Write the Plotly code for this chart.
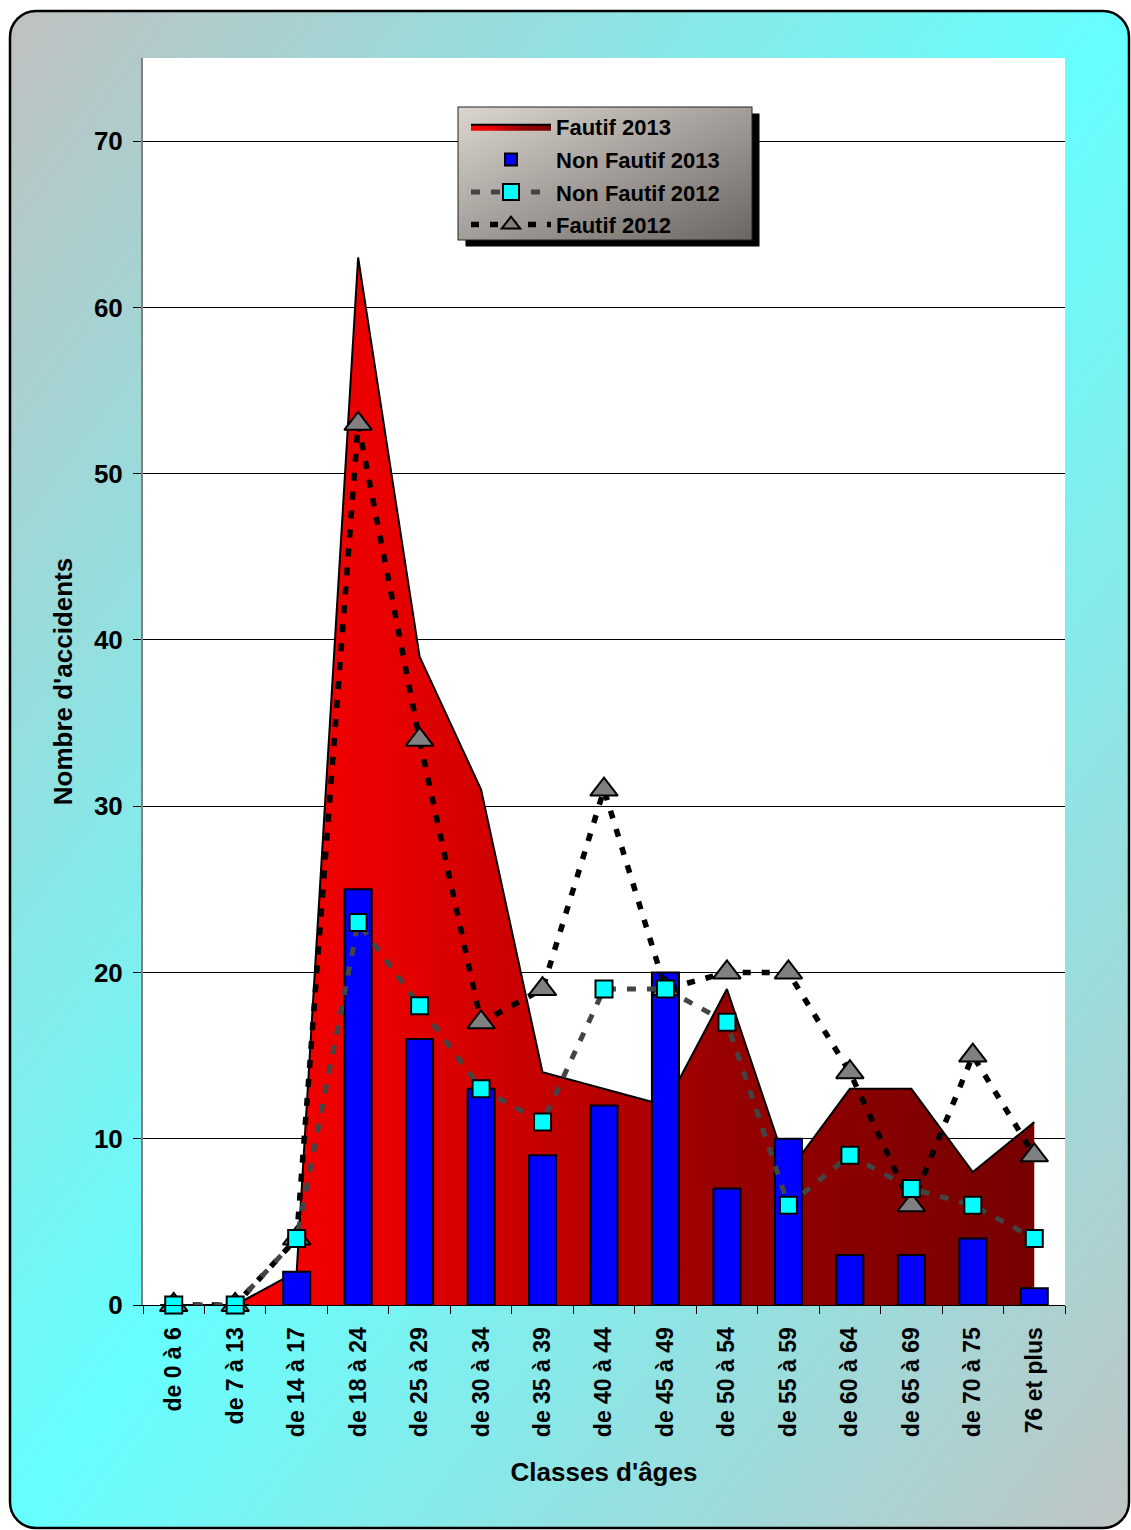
import base64
import plotly.graph_objects as go

# ---------------- data ----------------
categories = ["de 0 à 6", "de 7 à 13", "de 14 à 17", "de 18 à 24", "de 25 à 29",
              "de 30 à 34", "de 35 à 39", "de 40 à 44", "de 45 à 49", "de 50 à 54",
              "de 55 à 59", "de 60 à 64", "de 65 à 69", "de 70 à 75", "76 et plus"]
fautif_2013 = [0, 0, 2, 63, 39, 31, 14, 13, 12, 19, 8, 13, 13, 8, 11]
non_fautif_2013 = [0, 0, 2, 25, 16, 13, 9, 12, 20, 7, 10, 3, 3, 4, 1]
non_fautif_2012 = [0, 0, 4, 23, 18, 13, 11, 19, 19, 17, 6, 9, 7, 6, 4]
fautif_2012 = [0, 0, 4, 53, 34, 17, 19, 31, 19, 20, 20, 14, 6, 15, 9]
y_ticks = [0, 10, 20, 30, 40, 50, 60, 70]

# ---------------- layout geometry ----------------
W, H = 1131, 1530
L, R, T, B = 143, 66, 58, 225
PW, PH = W - L - R, H - T - B

FONT = "Liberation Sans, Arial, sans-serif"


def svg_uri(svg):
    return "data:image/svg+xml;base64," + base64.b64encode(svg.encode("utf-8")).decode()


paper_svg = f'''<svg xmlns="http://www.w3.org/2000/svg" width="{W}" height="{H}" viewBox="0 0 {W} {H}">
<defs><linearGradient id="g" x1="0" y1="0" x2="1" y2="1">
<stop offset="0" stop-color="#c0c0c0"/><stop offset="0.5" stop-color="#66ffff"/><stop offset="1" stop-color="#c0c4c4"/>
</linearGradient></defs>
<rect x="10" y="11" width="1119" height="1517" rx="26" ry="26" fill="url(#g)" stroke="#000" stroke-width="2.5"/>
<rect x="{L}" y="{T}" width="{PW}" height="{PH}" fill="#ffffff"/>
</svg>'''

# legend box (pixels)
LX0, LY0, LX1, LY1 = 458, 107, 752, 240
legend_svg = f'''<svg xmlns="http://www.w3.org/2000/svg" width="310" height="150" viewBox="0 0 310 150">
<defs><linearGradient id="lg" x1="0" y1="0" x2="1" y2="1">
<stop offset="0" stop-color="#dcd6d0"/><stop offset="1" stop-color="#6a6662"/>
</linearGradient></defs>
<rect x="11" y="10" width="{LX1-LX0}" height="{LY1-LY0}" fill="#000"/>
<rect x="3.5" y="3.5" width="{LX1-LX0}" height="{LY1-LY0}" fill="url(#lg)" stroke="#222" stroke-width="1"/>
</svg>'''


def px_x(px):
    return (px - L) / PW


def px_y(py):
    return 1 - (py - T) / PH


fig = go.Figure()

fig.add_trace(go.Scatter(
    x=categories, y=fautif_2013, name="Fautif 2013", mode="lines",
    line=dict(color="#000000", width=2),
    fill="tozeroy",
    fillgradient=dict(type="horizontal",
                      colorscale=[[0, "#ff0000"], [0.25, "#e80000"], [0.45, "#c00000"],
                                  [0.65, "#960000"], [1, "#760000"]]),
    xaxis="x", yaxis="y", legendrank=1, legendgroup="a",
))

fig.add_trace(go.Bar(
    x=categories, y=non_fautif_2013, name="Non Fautif 2013",
    marker=dict(color="#0000ff", line=dict(color="#000000", width=2)),
    width=0.44, xaxis="x", yaxis="y2", legendrank=2, legendgroup="b",
))

fig.add_trace(go.Scatter(
    x=categories, y=fautif_2012, name="Fautif 2012", mode="lines+markers",
    line=dict(color="#000000", width=5.5, dash="8px,11px"),
    marker=dict(symbol="triangle-up", size=24, color="#808080",
                line=dict(color="#000000", width=2)),
    cliponaxis=False, xaxis="x", yaxis="y2", legendrank=4, legendgroup="d",
))

fig.add_trace(go.Scatter(
    x=categories, y=non_fautif_2012, name="Non Fautif 2012", mode="lines+markers",
    line=dict(color="#444444", width=5, dash="9px,11px"),
    marker=dict(symbol="square", size=17, color="#00ffff",
                line=dict(color="#000000", width=2)),
    cliponaxis=False, xaxis="x", yaxis="y2", legendrank=3, legendgroup="c",
))

fig.update_layout(
    width=W, height=H,
    margin=dict(l=L, r=R, t=T, b=B, pad=0),
    paper_bgcolor="#ffffff",
    plot_bgcolor="rgba(0,0,0,0)",
    font=dict(family=FONT, color="#000000"),
    showlegend=True,
    legend=dict(
        x=px_x(466), y=px_y(LY0 - 1), xanchor="left", yanchor="top",
        bgcolor="rgba(0,0,0,0)", borderwidth=0,
        font=dict(family=FONT, size=22, weight="bold", color="#000000"),
        itemwidth=80, traceorder="grouped", tracegroupgap=1,
    ),
    xaxis=dict(
        type="category", categoryorder="array", categoryarray=categories,
        range=[-0.5, len(categories) - 0.5],
        showline=True, linecolor="#000000", linewidth=1,
        ticks="outside", tickson="boundaries", ticklen=8, tickcolor="#000000",
        tickangle=-90, ticklabelstandoff=12,
        tickfont=dict(family=FONT, size=23, weight="bold"),
        showgrid=False, zeroline=False,
        title=dict(text="Classes d'âges", font=dict(family=FONT, size=26, weight="bold"),
                   standoff=26),
    ),
    yaxis=dict(
        range=[0, 75], tickvals=y_ticks,
        showline=True, linecolor="#808080", linewidth=2,
        ticks="outside", ticklen=8, tickcolor="#000000",
        ticklabelstandoff=5,
        tickfont=dict(family=FONT, size=26, weight="bold"),
        showgrid=True, gridcolor="#000000", gridwidth=1, zeroline=False,
        title=dict(text="Nombre d'accidents", font=dict(family=FONT, size=26, weight="bold"),
                   standoff=14),
    ),
    yaxis2=dict(range=[0, 75], overlaying="y", visible=False),
    images=[
        dict(source=svg_uri(paper_svg), xref="paper", yref="paper",
             x=-L / PW, y=1 + T / PH, sizex=W / PW, sizey=H / PH,
             xanchor="left", yanchor="top", sizing="stretch", layer="below"),
        dict(source=svg_uri(legend_svg), xref="paper", yref="paper",
             x=px_x(LX0 - 3.5), y=px_y(LY0 - 3.5), sizex=310 / PW, sizey=150 / PH,
             xanchor="left", yanchor="top", sizing="stretch", layer="above"),
    ],
)

fig.write_html(
    "out.html",
    config={"displayModeBar": False},
    post_script="document.body.style.margin='0';document.body.style.overflow='hidden';",
)
